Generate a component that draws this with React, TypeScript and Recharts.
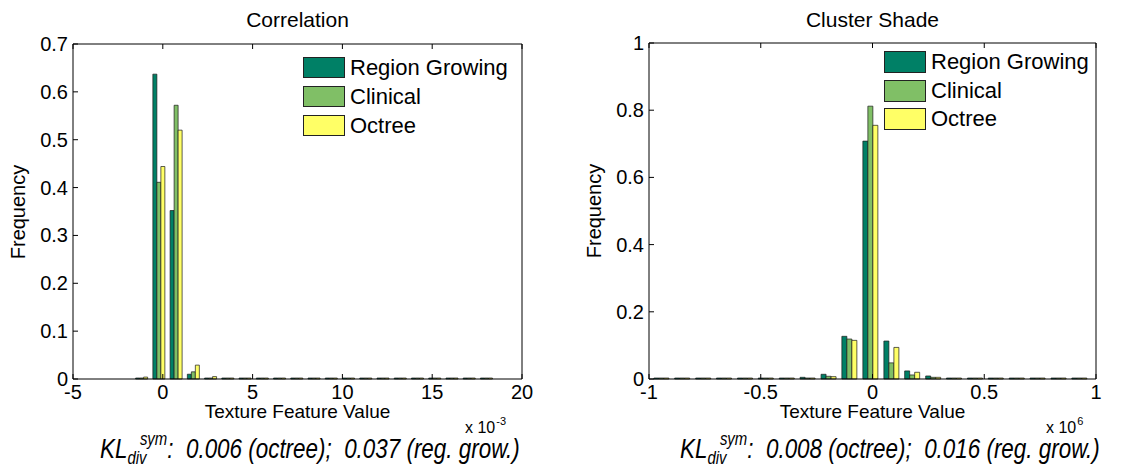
import React from "react";
import { BarChart, Bar, XAxis, YAxis } from "recharts";

const FONT = "'Liberation Sans', Arial, Helvetica, sans-serif";

const SERIES = ["Region Growing", "Clinical", "Octree"];
const COLORS = ["#008066", "#80bf66", "#ffff66"];

// Correlation, bin centres in units of 10^-3
const corrBins = [
  -1.2, -0.24, 0.72, 1.68, 2.64, 3.6, 4.56, 5.52, 6.48, 7.44, 8.4, 9.36, 10.32,
  11.28, 12.24, 13.2, 14.16, 15.12, 16.08, 17.04, 18.0,
];
const corrRegion = [0.001, 0.637, 0.352, 0.01, 0.001, 0, 0, 0, 0, 0, 0, 0, 0, 0, 0, 0, 0, 0, 0, 0, 0];
const corrClinical = [0.001, 0.411, 0.572, 0.015, 0.001, 0, 0, 0, 0, 0, 0, 0, 0, 0, 0, 0, 0, 0, 0, 0, 0];
const corrOctree = [0.004, 0.444, 0.52, 0.029, 0.005, 0, 0, 0, 0, 0, 0, 0, 0, 0, 0, 0, 0, 0, 0, 0, 0];
const corrXTicks = [-5, 0, 5, 10, 15, 20];
const corrYTicks = [0, 0.1, 0.2, 0.3, 0.4, 0.5, 0.6, 0.7];

// Cluster Shade, bin centres in units of 10^6
const shadeBins = [
  -0.945, -0.852, -0.758, -0.665, -0.571, -0.478, -0.384, -0.291, -0.197, -0.104,
  -0.01, 0.084, 0.177, 0.271, 0.364, 0.458, 0.551, 0.645, 0.738, 0.832, 0.925,
];
const shadeRegion = [0, 0, 0, 0, 0, 0, 0, 0.005, 0.014, 0.127, 0.708, 0.113, 0.024, 0.009, 0, 0, 0, 0, 0, 0, 0];
const shadeClinical = [0, 0, 0, 0, 0, 0, 0, 0.001, 0.008, 0.119, 0.812, 0.048, 0.012, 0.005, 0, 0, 0, 0, 0, 0, 0];
const shadeOctree = [0, 0, 0, 0, 0, 0, 0, 0.001, 0.007, 0.115, 0.755, 0.094, 0.02, 0.005, 0, 0, 0, 0, 0, 0, 0];
const shadeXTicks = [-1, -0.5, 0, 0.5, 1];
const shadeYTicks = [0, 0.2, 0.4, 0.6, 0.8, 1];

const toRows = (bins: number[], a: number[], b: number[], c: number[]) =>
  bins.map((x, i) => ({ x, rg: a[i], cl: b[i], oc: c[i] }));

// axes are 1px thick so recharts draws them; ticks point inwards like matlab
const BottomTick = (props: any) => {
  const { x, y, payload } = props;
  return (
    <g>
      <line x1={x} y1={y} x2={x} y2={y - 5} stroke="#000" />
      <text x={x} y={y + 20} textAnchor="middle" fontSize={20} fontFamily={FONT} fill="#000">
        {String(payload.value)}
      </text>
    </g>
  );
};
const TopTick = (props: any) => {
  const { x, y } = props;
  return <line x1={x} y1={y} x2={x} y2={y + 5} stroke="#000" />;
};
const LeftTick = (props: any) => {
  const { x, y, payload } = props;
  return (
    <g>
      <line x1={x} y1={y} x2={x + 5} y2={y} stroke="#000" />
      <text x={x - 5} y={y} dy="0.35em" textAnchor="end" fontSize={20} fontFamily={FONT} fill="#000">
        {String(payload.value)}
      </text>
    </g>
  );
};
const RightTick = (props: any) => {
  const { x, y } = props;
  return <line x1={x} y1={y} x2={x - 5} y2={y} stroke="#000" />;
};

interface PanelProps {
  left: number;
  width: number;
  plot: { left: number; top: number; right: number; bottom: number };
  title: string;
  rows: { x: number; rg: number; cl: number; oc: number }[];
  xDomain: [number, number];
  xTicks: number[];
  yDomain: [number, number];
  yTicks: number[];
  barSize: number;
  legend: { x: number; y: number; w: number; h: number; pitch: number };
  exp: { x: number; text: string };
  kl: { x: number; text: string };
}

function Panel(p: PanelProps) {
  const margin = {
    top: p.plot.top - 1,
    left: p.plot.left - p.left - 1,
    right: p.left + p.width - p.plot.right - 1,
    bottom: 470 - p.plot.bottom - 1,
  };
  const cx = (p.plot.left + p.plot.right) / 2;
  const cy = (p.plot.top + p.plot.bottom) / 2;
  const keys = ["rg", "cl", "oc"];
  return (
    <>
      <div style={{ position: "absolute", left: p.left, top: 0 }}>
        <BarChart width={p.width} height={470} data={p.rows} margin={margin} barGap={0}>
          <XAxis
            dataKey="x"
            type="number"
            domain={p.xDomain}
            ticks={p.xTicks}
            interval={0}
            height={1}
            tickSize={0}
            tickMargin={0}
            tickLine={false}
            axisLine={{ stroke: "#000" }}
            tick={<BottomTick />}
          />
          <XAxis
            xAxisId="top"
            orientation="top"
            dataKey="x"
            type="number"
            domain={p.xDomain}
            ticks={p.xTicks}
            interval={0}
            height={1}
            tickSize={0}
            tickMargin={0}
            tickLine={false}
            axisLine={{ stroke: "#000" }}
            tick={<TopTick />}
          />
          <YAxis
            type="number"
            domain={p.yDomain}
            ticks={p.yTicks}
            interval={0}
            width={1}
            tickSize={0}
            tickMargin={0}
            tickLine={false}
            axisLine={{ stroke: "#000" }}
            tick={<LeftTick />}
          />
          <YAxis
            yAxisId="right"
            orientation="right"
            type="number"
            domain={p.yDomain}
            ticks={p.yTicks}
            interval={0}
            width={1}
            tickSize={0}
            tickMargin={0}
            tickLine={false}
            axisLine={{ stroke: "#000" }}
            tick={<RightTick />}
          />
          {keys.map((k, i) => (
            <Bar
              key={k}
              dataKey={k}
              name={SERIES[i]}
              fill={COLORS[i]}
              stroke="#1a1a1a"
              strokeWidth={0.7}
              barSize={p.barSize}
              minPointSize={1}
              isAnimationActive={false}
            />
          ))}
        </BarChart>
      </div>

      <div style={{ position: "absolute", left: cx - 150, width: 300, top: 9, textAlign: "center", fontSize: 21, lineHeight: 1 }}>
        {p.title}
      </div>

      <div style={{ position: "absolute", left: p.plot.left - 55, top: cy, width: 0, height: 0 }}>
        <div style={{ position: "absolute", left: 0, top: 0, fontSize: 20, lineHeight: 1, whiteSpace: "nowrap", transform: "translate(-50%,-50%) rotate(-90deg)" }}>
          Frequency
        </div>
      </div>

      <div style={{ position: "absolute", left: cx - 150, width: 300, top: 404, textAlign: "center", fontSize: 19, lineHeight: 0.8 }}>
        Texture Feature Value
      </div>

      <div style={{ position: "absolute", left: p.exp.x, top: 420, fontSize: 16, lineHeight: 1, whiteSpace: "nowrap" }}>
        x 10<span style={{ fontSize: 11, position: "relative", top: -8, marginLeft: 1 }}>{p.exp.text}</span>
      </div>

      <div
        style={{
          position: "absolute",
          left: p.kl.x,
          top: 436,
          fontSize: 27,
          lineHeight: 1,
          fontStyle: "italic",
          whiteSpace: "pre",
          transform: "scaleX(0.83)",
          transformOrigin: "0 0",
        }}
      >
        KL<span style={{ fontSize: 18, position: "relative", top: 6 }}>div</span>
        <span style={{ fontSize: 18, position: "relative", top: -13, marginLeft: -8 }}>sym</span>
        {p.kl.text}
      </div>

      {SERIES.map((s, i) => (
        <div key={s} style={{ position: "absolute", left: p.legend.x, top: p.legend.y + i * p.legend.pitch, height: p.legend.h, display: "flex", alignItems: "center" }}>
          <div style={{ width: p.legend.w, height: p.legend.h, boxSizing: "border-box", background: COLORS[i], border: "1px solid #222" }} />
          <div style={{ marginLeft: 5, fontSize: 22, lineHeight: 1, whiteSpace: "nowrap" }}>{s}</div>
        </div>
      ))}
    </>
  );
}

export default function App() {
  return (
    <div style={{ position: "absolute", left: 0, top: 0, width: 1123, height: 470, background: "#fff", fontFamily: FONT, color: "#000", overflow: "hidden" }}>
      <Panel
        left={0}
        width={560}
        plot={{ left: 73, top: 44, right: 522, bottom: 379 }}
        title="Correlation"
        rows={toRows(corrBins, corrRegion, corrClinical, corrOctree)}
        xDomain={[-5, 20]}
        xTicks={corrXTicks}
        yDomain={[0, 0.7]}
        yTicks={corrYTicks}
        barSize={4}
        legend={{ x: 303, y: 57, w: 42, h: 21, pitch: 29 }}
        exp={{ x: 465, text: "-3" }}
        kl={{ x: 100, text: ":  0.006 (octree);  0.037 (reg. grow.)" }}
      />
      <Panel
        left={560}
        width={563}
        plot={{ left: 649, top: 43, right: 1096, bottom: 379 }}
        title="Cluster Shade"
        rows={toRows(shadeBins, shadeRegion, shadeClinical, shadeOctree)}
        xDomain={[-1, 1]}
        xTicks={shadeXTicks}
        yDomain={[0, 1]}
        yTicks={shadeYTicks}
        barSize={5}
        legend={{ x: 884, y: 51, w: 42, h: 22, pitch: 28.7 }}
        exp={{ x: 1046, text: "6" }}
        kl={{ x: 680, text: ":  0.008 (octree);  0.016 (reg. grow.)" }}
      />
    </div>
  );
}
